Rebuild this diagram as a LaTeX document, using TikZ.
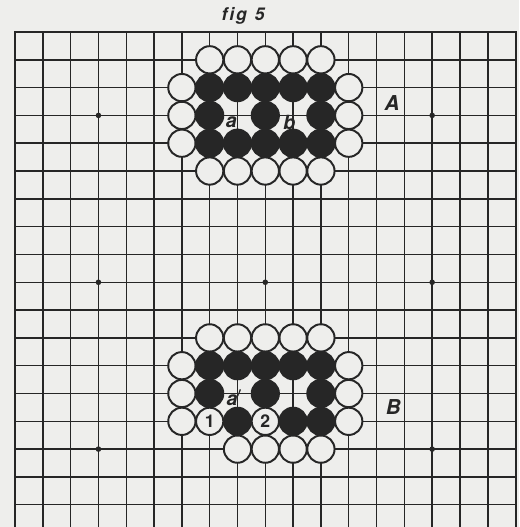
\documentclass[tikz,border=0pt]{standalone}
\usepackage{fontspec}
\setsansfont{TeX Gyre Heros}
\usepackage{tikz}
\usetikzlibrary{positioning}

\definecolor{paper}{RGB}{238,238,236}
\definecolor{ink}{RGB}{38,38,38}

\begin{document}
\begin{tikzpicture}[x=1cm,y=-1cm,
    gridline/.style={line width=1.5pt,draw=ink},
    wstone/.style={circle,draw=ink,line width=2pt,fill=paper,minimum size=0.98cm,inner sep=0pt},
    bstone/.style={circle,draw=ink,line width=2pt,fill=ink,minimum size=0.98cm,inner sep=0pt},
    numlab/.style={font=\fontsize{18}{18}\selectfont\sffamily\bfseries,text=ink},
    poslab/.style={font=\fontsize{21}{21}\selectfont\sffamily\bfseries\itshape,text=ink},
    ptlab/.style={font=\fontsize{20}{20}\selectfont\sffamily\bfseries\itshape,text=ink}]
    \fill[paper] (-0.54,-1.15) rectangle (18.13,17.8);
    \useasboundingbox (-0.54,-1.15) rectangle (18.13,17.8);
    \begin{scope}
        \clip (-0.54,-1.15) rectangle (18.13,17.8);
        \foreach \i in {1,...,17}
        {
            \draw[gridline] (\i,0)--(\i,18);
            \draw[gridline] (0,\i)--(18,\i);
        }
        \draw[line width=2.2pt,draw=ink] (0,18)--(0,0)--(18,0)--(18,18);
    \end{scope}
    % star points
    \foreach \x/\y in {3/3,15/3,3/9,9/9,15/9,3/15,15/15}
        \fill[ink] (\x,\y) circle (0.1);
    \node[font=\fontsize{18}{18}\selectfont\sffamily\bfseries\itshape,text=ink] (title) at (8.2,-0.58) {f\hspace{2pt}i\hspace{2pt}g\hspace{8pt}5};

    % position A
    \foreach \x/\y in {7/1,8/1,9/1,10/1,11/1,6/2,12/2,6/3,12/3,6/4,12/4,7/5,8/5,9/5,10/5,11/5}
        \node[wstone] (wa-\x-\y) at (\x,\y) {};
    \foreach \x/\y in {7/2,8/2,9/2,10/2,11/2,7/3,9/3,11/3,7/4,8/4,9/4,10/4,11/4}
        \node[bstone] (ba-\x-\y) at (\x,\y) {};
    \node[ptlab] (pta) at (7.78,3.25) {a};
    \node[ptlab] (ptb) at (9.86,3.25) {b};
    \node[poslab] (labA) at (13.56,2.55) {A};

    % position B
    \foreach \x/\y in {7/11,8/11,9/11,10/11,11/11,6/12,12/12,6/13,12/13,6/14,12/14,8/15,9/15,10/15,11/15}
        \node[wstone] (wb-\x-\y) at (\x,\y) {};
    \foreach \x/\y in {7/12,8/12,9/12,10/12,11/12,7/13,9/13,11/13,8/14,10/14,11/14}
        \node[bstone] (bb-\x-\y) at (\x,\y) {};
    \node[wstone] (move1) at (7,14) {};
    \node[numlab] (num1) at (move1) {1};
    \node[wstone] (move2) at (9,14) {};
    \node[numlab] (num2) at (move2) {2};
    \node[ptlab] (ptaa) at (7.88,13.15) {a$'$};
    \node[poslab] (labB) at (13.6,13.5) {B};
\end{tikzpicture}
\end{document}
